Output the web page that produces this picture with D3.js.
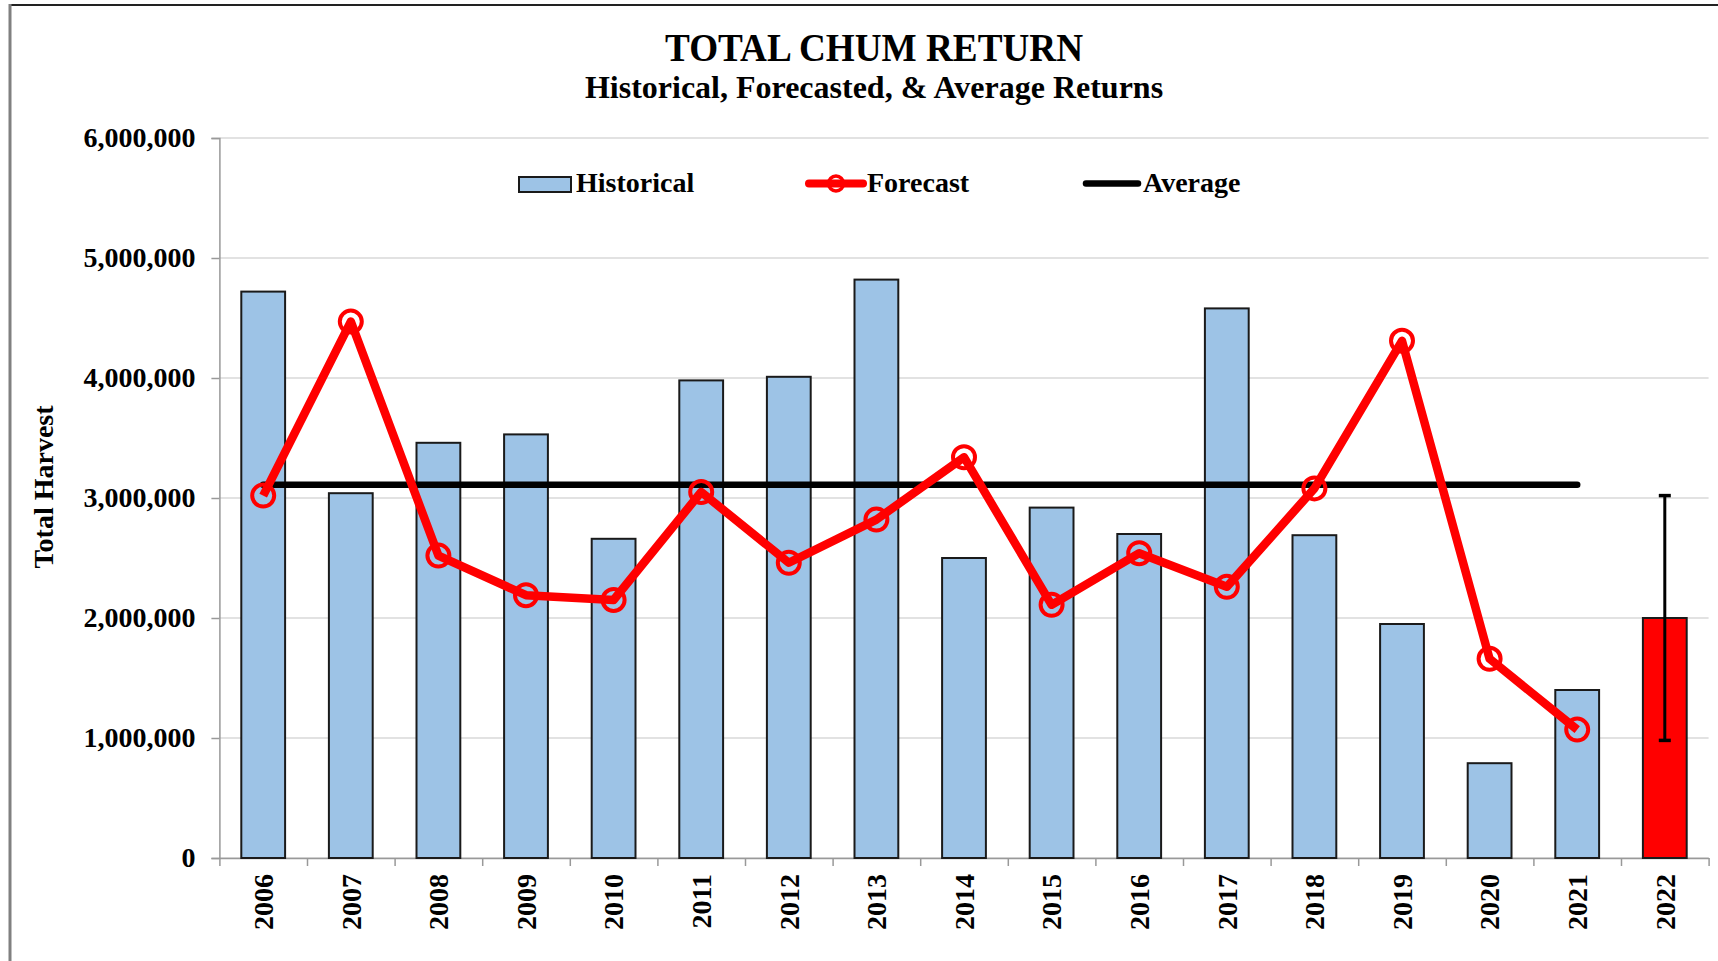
<!DOCTYPE html>
<html>
<head>
<meta charset="utf-8">
<script src="https://cdn.jsdelivr.net/npm/d3@7"></script>
<style>
  body { margin: 0; background: #fff; }
  text { font-family: "Liberation Serif", "Times New Roman", serif; font-weight: bold; fill: #000; }
</style>
</head>
<body>
<script>
// years on the x axis
var years = ["2006", "2007", "2008", "2009", "2010", "2011", "2012", "2013", "2014",
             "2015", "2016", "2017", "2018", "2019", "2020", "2021", "2022"];
// historical returns (bars), 2022 has none
var historical = [4720000, 3040000, 3460000, 3530000, 2660000, 3980000, 4010000, 4820000, 2500000,
                  2920000, 2700000, 4580000, 2690000, 1950000, 790000, 1400000, null];
// forecasts made for each year 2006-2021
var forecast = [3020000, 4470000, 2520000, 2190000, 2150000, 3050000, 2460000, 2820000, 3340000,
                2110000, 2540000, 2260000, 3080000, 4310000, 1660000, 1070000];
// 2022 forecast with its range
var forecastYear = "2022";
var forecastValue = 2000000;
var forecastRange = [980000, 3020000];
// average return line over 2006-2021
var averageValue = 3110000;
var averageYears = ["2006", "2021"];
var yTicks = [0, 1000000, 2000000, 3000000, 4000000, 5000000, 6000000];

var W = 1718, H = 961;
var plot = {left: 219.4, right: 1708.6, top: 138, bottom: 858};

var svg = d3.select("body").append("svg")
    .attr("width", W)
    .attr("height", H);

// outer frame
svg.append("line").attr("x1", 9).attr("x2", W).attr("y1", 5).attr("y2", 5)
    .attr("stroke", "#222").attr("stroke-width", 2);
svg.append("line").attr("x1", 10).attr("x2", 10).attr("y1", 4).attr("y2", H)
    .attr("stroke", "#808080").attr("stroke-width", 3);

// scales
var x = d3.scaleBand()
    .domain(years)
    .range([plot.left, plot.right])
    .paddingInner(0.5)
    .paddingOuter(0.25);
var xEdge = d3.scaleLinear()
    .domain([0, years.length])
    .range([plot.left, plot.right]);
var y = d3.scaleLinear()
    .domain([0, 6000000])
    .range([plot.bottom, plot.top]);
var cx = function(d) { return x(d) + x.bandwidth() / 2; };

// titles
svg.append("text")
    .attr("x", 874).attr("y", 61)
    .attr("text-anchor", "middle")
    .attr("font-size", 40)
    .attr("textLength", 418)
    .attr("lengthAdjust", "spacingAndGlyphs")
    .text("TOTAL CHUM RETURN");
svg.append("text")
    .attr("x", 874).attr("y", 98)
    .attr("text-anchor", "middle")
    .attr("font-size", 32)
    .text("Historical, Forecasted, & Average Returns");

// gridlines
svg.append("g")
    .selectAll("line")
    .data(yTicks)
    .join("line")
    .attr("x1", plot.left).attr("x2", plot.right)
    .attr("y1", function(d) { return y(d); })
    .attr("y2", function(d) { return y(d); })
    .attr("stroke", "#d9d9d9")
    .attr("stroke-width", 1.5);

// y axis
var yAxis = svg.append("g")
    .attr("transform", "translate(" + plot.left + ",0)")
    .call(d3.axisLeft(y).tickValues(yTicks).tickSize(8).tickPadding(16).tickFormat(d3.format(",")));
yAxis.select(".domain").attr("stroke", "#999").attr("stroke-width", 1.5);
yAxis.selectAll(".tick line").attr("stroke", "#999").attr("stroke-width", 1.5);
yAxis.selectAll(".tick text").attr("font-size", 28).attr("font-family", null);

svg.append("text")
    .attr("transform", "translate(53,487) rotate(-90)")
    .attr("text-anchor", "middle")
    .attr("font-size", 28)
    .text("Total Harvest");

// x axis: tick marks at category edges, labels at centres
var xAxisEdges = svg.append("g")
    .attr("transform", "translate(0," + plot.bottom + ")")
    .call(d3.axisBottom(xEdge).tickValues(d3.range(years.length + 1))
        .tickSize(8).tickSizeOuter(0).tickFormat(""));
xAxisEdges.select(".domain").attr("stroke", "#999").attr("stroke-width", 1.5);
xAxisEdges.selectAll(".tick line").attr("stroke", "#999").attr("stroke-width", 1.5);

svg.append("g")
    .selectAll("text")
    .data(years)
    .join("text")
    .attr("transform", function(d) { return "translate(" + cx(d) + "," + (plot.bottom + 16) + ") rotate(-90)"; })
    .attr("text-anchor", "end")
    .attr("dy", "0.35em")
    .attr("font-size", 28)
    .text(function(d) { return d; });

// historical bars
var histData = years.map(function(d, i) { return {year: d, value: historical[i]}; })
    .filter(function(d) { return d.value != null; });
svg.append("g")
    .selectAll("rect")
    .data(histData)
    .join("rect")
    .attr("x", function(d) { return x(d.year); })
    .attr("y", function(d) { return y(d.value); })
    .attr("width", x.bandwidth())
    .attr("height", function(d) { return y(0) - y(d.value); })
    .attr("fill", "#9dc3e6")
    .attr("stroke", "#1a1a1a")
    .attr("stroke-width", 2);

// 2022 forecast bar
svg.append("rect")
    .attr("x", x(forecastYear))
    .attr("y", y(forecastValue))
    .attr("width", x.bandwidth())
    .attr("height", y(0) - y(forecastValue))
    .attr("fill", "#ff0000")
    .attr("stroke", "#1a1a1a")
    .attr("stroke-width", 2);

// error bar
var eb = svg.append("g").attr("stroke", "#000");
eb.append("line")
    .attr("x1", cx(forecastYear)).attr("x2", cx(forecastYear))
    .attr("y1", y(forecastRange[0])).attr("y2", y(forecastRange[1]))
    .attr("stroke-width", 3);
eb.selectAll("line.cap")
    .data(forecastRange)
    .join("line")
    .attr("class", "cap")
    .attr("x1", cx(forecastYear) - 6).attr("x2", cx(forecastYear) + 6)
    .attr("y1", function(d) { return y(d); })
    .attr("y2", function(d) { return y(d); })
    .attr("stroke-width", 3.5);

// average line
svg.append("line")
    .attr("x1", cx(averageYears[0])).attr("x2", cx(averageYears[1]))
    .attr("y1", y(averageValue)).attr("y2", y(averageValue))
    .attr("stroke", "#000")
    .attr("stroke-width", 6.5)
    .attr("stroke-linecap", "round");

// forecast line + markers
var fcData = forecast.map(function(v, i) { return {year: years[i], value: v}; });
var line = d3.line()
    .x(function(d) { return cx(d.year); })
    .y(function(d) { return y(d.value); });
svg.append("path")
    .datum(fcData)
    .attr("d", line)
    .attr("fill", "none")
    .attr("stroke", "#ff0000")
    .attr("stroke-width", 8.5)
    .attr("stroke-linejoin", "round");
svg.append("g")
    .selectAll("circle")
    .data(fcData)
    .join("circle")
    .attr("cx", function(d) { return cx(d.year); })
    .attr("cy", function(d) { return y(d.value); })
    .attr("r", 11)
    .attr("fill", "none")
    .attr("stroke", "#ff0000")
    .attr("stroke-width", 4);

// legend
var legend = svg.append("g");
legend.append("rect")
    .attr("x", 519).attr("y", 177).attr("width", 52).attr("height", 15)
    .attr("fill", "#9dc3e6").attr("stroke", "#1a1a1a").attr("stroke-width", 2);
legend.append("text").attr("x", 576).attr("y", 192).attr("font-size", 28).text("Historical");

legend.append("line")
    .attr("x1", 809).attr("x2", 863).attr("y1", 183.5).attr("y2", 183.5)
    .attr("stroke", "#ff0000").attr("stroke-width", 8).attr("stroke-linecap", "round");
legend.append("circle")
    .attr("cx", 836).attr("cy", 183.5).attr("r", 7.5)
    .attr("fill", "none").attr("stroke", "#ff0000").attr("stroke-width", 3.5);
legend.append("text").attr("x", 867).attr("y", 192).attr("font-size", 28).text("Forecast");

legend.append("line")
    .attr("x1", 1086).attr("x2", 1138).attr("y1", 183.5).attr("y2", 183.5)
    .attr("stroke", "#000").attr("stroke-width", 6.5).attr("stroke-linecap", "round");
legend.append("text").attr("x", 1143).attr("y", 192).attr("font-size", 28).text("Average");
</script>
</body>
</html>
